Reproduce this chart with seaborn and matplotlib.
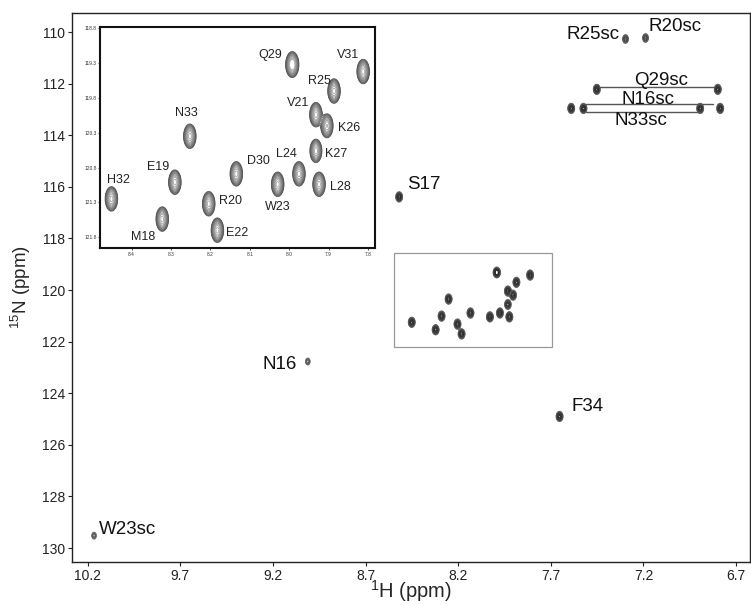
import numpy as np
import matplotlib
matplotlib.use("Agg")
import matplotlib.pyplot as plt
import seaborn as sns
from matplotlib.patches import Rectangle

# ---------------- data (ppm) ----------------
# backbone peaks shown in the zoomed inset (also drawn in main spectrum)
inset_labels = ["Q29", "V31", "R25", "V21", "K26", "N33", "K27", "L24",
                "D30", "E19", "W23", "L28", "H32", "R20", "M18", "E22"]
inset_h = [7.992, 7.812, 7.886, 7.932, 7.904, 8.252, 7.932, 7.975,
           8.134, 8.290, 8.029, 7.924, 8.451, 8.204, 8.322, 8.182]
inset_n = [119.32, 119.42, 119.70, 120.04, 120.20, 120.35, 120.56, 120.89,
           120.89, 121.01, 121.04, 121.04, 121.25, 121.32, 121.54, 121.70]
inset_amp = [1.4, 1.0, 1.0, 1.0, 0.9, 1.0, 0.8, 1.0,
             1.0, 1.0, 1.0, 1.0, 1.0, 1.0, 1.0, 1.0]
inset_lab_h = [8.049, 7.850, 7.924, 7.977, 7.848, 8.260, 7.880, 8.007,
               8.079, 8.332, 8.030, 7.871, 8.434, 8.150, 8.371, 8.133]
inset_lab_n = [119.18, 119.18, 119.56, 119.87, 120.23, 120.02, 120.60, 120.61,
               120.70, 120.79, 121.37, 121.08, 120.98, 121.28, 121.80, 121.74]

# other peaks of the main spectrum (side chains etc.)
main_h = [8.519, 9.012, 7.653, 10.166, 7.297, 7.189, 7.452, 6.799,
          7.590, 7.524, 6.894, 6.786]
main_n = [116.39, 122.77, 124.90, 129.52, 110.27, 110.23, 112.22, 112.22,
          112.96, 112.96, 112.96, 112.96]
main_amp = [1.0, 0.22, 1.0, 0.22, 0.45, 0.45, 1.0, 1.0,
            1.0, 1.0, 1.0, 1.0]

# main labels
main_labels = ["S17", "N16", "F34", "W23sc", "R25sc", "R20sc",
               "Q29sc", "N16sc", "N33sc"]
main_lab_h = [8.478, 9.071, 7.590, 10.138, 7.329, 7.173, 7.104, 7.176, 7.212]
main_lab_n = [115.89, 122.90, 124.52, 129.27, 110.11, 109.79, 111.86, 112.60, 113.41]
main_lab_ha = ["left", "right", "left", "left", "right", "left",
               "center", "center", "center"]

# side-chain pair connectors
pair_names = ["Q29sc", "N16sc", "N33sc"]
pair_h0 = [7.437, 7.509, 7.509]
pair_h1 = [6.817, 6.826, 6.898]
pair_n = [112.14, 112.80, 113.09]

main_xticks = [10.2, 9.7, 9.2, 8.7, 8.2, 7.7, 7.2, 6.7]
main_yticks = [110, 112, 114, 116, 118, 120, 122, 124, 126, 128, 130]
inset_xticks = [8.4, 8.3, 8.2, 8.1, 8.0, 7.9, 7.8]
inset_yticks = [118.8, 119.3, 119.8, 120.3, 120.8, 121.3, 121.8]

# ---------------- style ----------------
sns.set_theme(style="ticks")
plt.rcParams["font.family"] = ["Liberation Sans", "DejaVu Sans"]
plt.rcParams["mathtext.fontset"] = "custom"
plt.rcParams["mathtext.rm"] = "Liberation Sans"
plt.rcParams["mathtext.it"] = "Liberation Sans:italic"
plt.rcParams["mathtext.bf"] = "Liberation Sans:bold"


def spectrum(xlim, ylim, nx, ny, hs, ns, amps, sx=0.008, sy=0.072):
    xg = np.linspace(min(xlim), max(xlim), nx)
    yg = np.linspace(min(ylim), max(ylim), ny)
    X, Y = np.meshgrid(xg, yg)
    Z = np.zeros_like(X)
    for h, n, a in zip(hs, ns, amps):
        Z += a * np.exp(-((X - h) ** 2 / (2 * sx ** 2) + (Y - n) ** 2 / (2 * sy ** 2)))
    return X, Y, Z


levels = (1 / 16.0) * 1.3 ** np.arange(11)
main_colors = [(s, s, s) for s in np.linspace(0.45, 0.12, len(levels))]
inset_colors = [(s, s, s) for s in np.linspace(0.28, 0.62, len(levels))]

fig = plt.figure(figsize=(7.51, 6.05), dpi=100)
W, H = 751, 605
ax = fig.add_axes([72 / W, (H - 561.7) / H, (750 - 72) / W, (561.7 - 12.7) / H])

main_xlim = (10.285, 6.625)
main_ylim = (130.53, 109.25)

all_h = main_h + inset_h
all_n = main_n + inset_n
all_amp = main_amp + inset_amp
X, Y, Z = spectrum(main_xlim, main_ylim, 1500, 700, all_h, all_n, all_amp, sy=0.085)
ax.contour(X, Y, Z, levels=levels, colors=main_colors, linewidths=0.6)

# connectors for side-chain pairs
for name, h0, h1, n in zip(pair_names, pair_h0, pair_h1, pair_n):
    sns.lineplot(x=[h0, h1], y=[n, n], color="#555555", linewidth=1.0,
                 ax=ax, sort=False, estimator=None)

for lab, h, n, ha in zip(main_labels, main_lab_h, main_lab_n, main_lab_ha):
    ax.text(h, n, lab, ha=ha, va="center", fontsize=13.5, color="#111111")

# zoom-region box
ax.add_patch(Rectangle((7.696, 118.56), 8.548 - 7.696, 122.2 - 118.56,
                       fill=False, edgecolor="#999999", linewidth=0.9))

ax.set_xlim(main_xlim)
ax.set_ylim(main_ylim)
ax.set_xticks(main_xticks)
ax.set_xticklabels([f"{t:.1f}" for t in main_xticks])
ax.set_yticks(main_yticks)
ax.set_yticklabels([str(t) for t in main_yticks])
ax.tick_params(axis="both", labelsize=10, length=3, width=0.8, direction="out",
               colors="#222222", pad=2)
for sp in ax.spines.values():
    sp.set_visible(True)
    sp.set_linewidth(1.0)
    sp.set_color("#222222")
ax.set_xlabel(r"$^{1}$H (ppm)", fontsize=14.5, labelpad=-3)
ax.set_ylabel(r"$^{15}$N (ppm)", fontsize=13.5, labelpad=6)

# ---------------- inset ----------------
axi = fig.add_axes([100 / W, (H - 248.3) / H, 275 / W, (248.3 - 27) / H])
inset_xlim = (8.48, 7.782)
inset_ylim = (121.96, 118.78)
Xi, Yi, Zi = spectrum(inset_xlim, inset_ylim, 700, 500, inset_h, inset_n, inset_amp,
                      sx=0.0068, sy=0.075)
axi.contour(Xi, Yi, Zi, levels=levels, colors=inset_colors, linewidths=0.55)
for lab, h, n in zip(inset_labels, inset_lab_h, inset_lab_n):
    axi.text(h, n, lab, ha="center", va="center", fontsize=9, color="#222222")
axi.set_xlim(inset_xlim)
axi.set_ylim(inset_ylim)
axi.set_xticks(inset_xticks)
axi.set_xticklabels([f"{t:.1f}" for t in inset_xticks])
axi.set_yticks(inset_yticks)
axi.set_yticklabels([f"{t:.1f}" for t in inset_yticks])
axi.tick_params(axis="both", labelsize=3.5, length=1.5, width=0.6, pad=1,
                colors="#333333")
for sp in axi.spines.values():
    sp.set_visible(True)
    sp.set_linewidth(1.5)
    sp.set_color("#111111")
axi.set_facecolor("white")

fig.savefig("out.png", dpi=100)
